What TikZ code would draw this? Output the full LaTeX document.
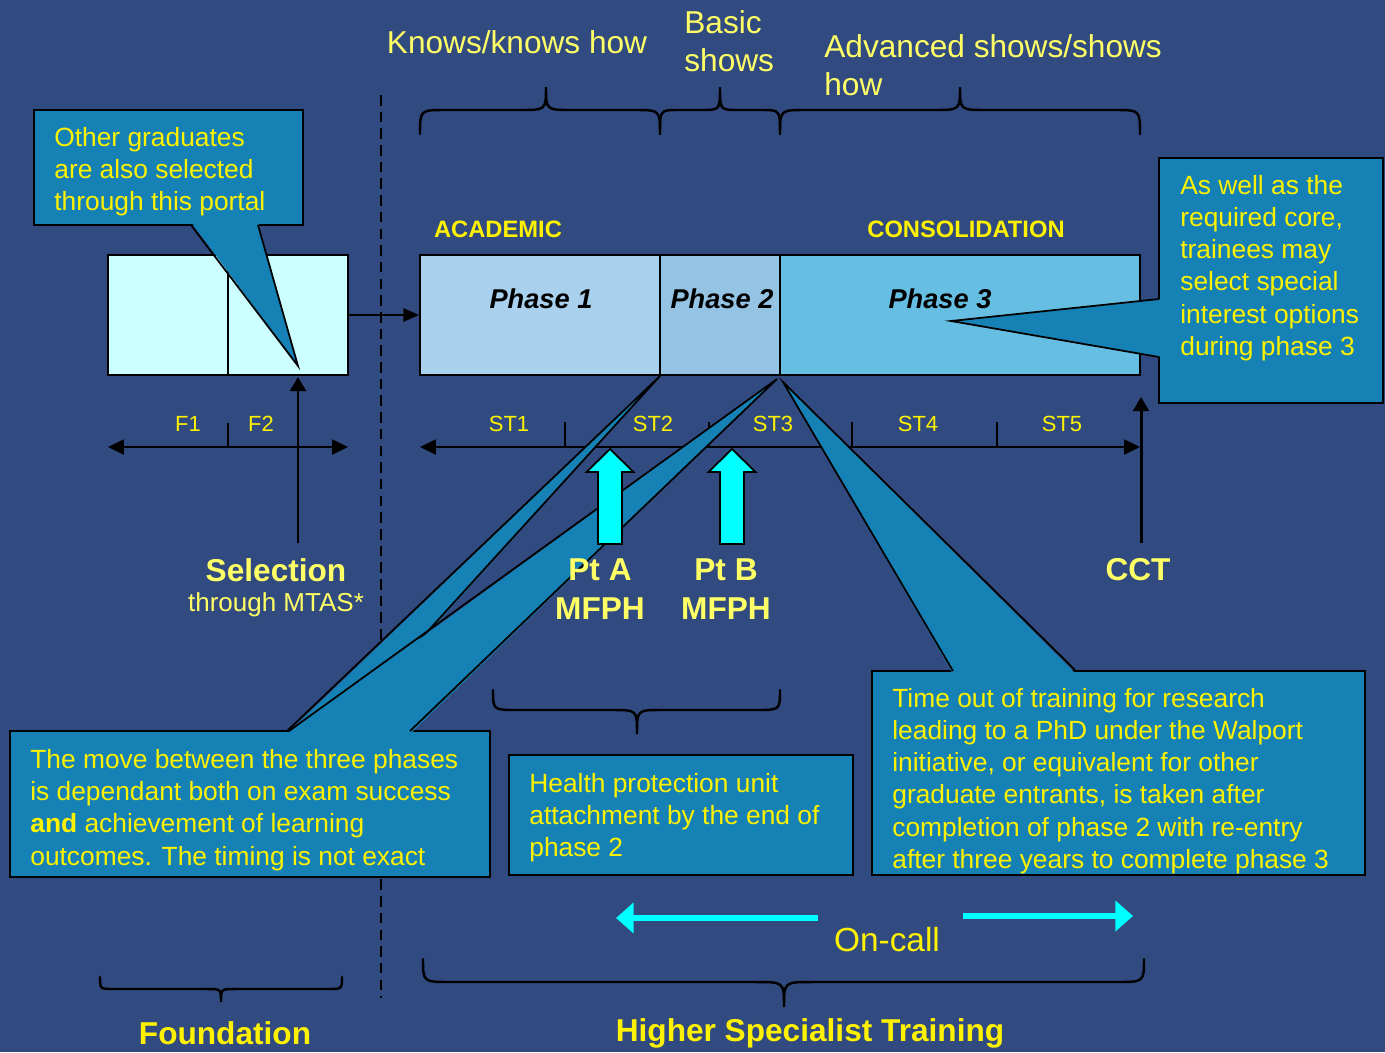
\documentclass[tikz,border=0pt]{standalone}
\usepackage{fontspec}
\setmainfont{Liberation Sans}
\usetikzlibrary{arrows.meta}

\definecolor{bgblue}{HTML}{314A80}
\definecolor{callblue}{HTML}{1581B4}
\definecolor{fcyan}{HTML}{CCFFFF}
\definecolor{phaseone}{HTML}{A9D1EE}
\definecolor{phasetwo}{HTML}{94C3E3}
\definecolor{phasethree}{HTML}{66BFE2}
\definecolor{softyellow}{HTML}{FFFF66}
\definecolor{aqua}{RGB}{0,255,255}

\tikzset{
  fbox/.style={draw=black, line width=1pt, fill=fcyan, minimum width=2.4cm, minimum height=2.4cm, inner sep=0pt},
  phasebox/.style={draw=black, line width=1pt, minimum height=2.4cm, inner sep=0pt},
  callbox/.style={draw=black, line width=1pt, fill=callblue, inner sep=0pt},
  calltext/.style={anchor=west, inner sep=0pt, align=left, text=yellow, font=\fontsize{15}{18.3}\selectfont},
  toplabel/.style={inner sep=0pt, align=left, text=softyellow, font=\fontsize{18}{21.5}\selectfont},
  biglabel/.style={inner sep=0pt, text=softyellow, font=\fontsize{18}{21}\selectfont\bfseries},
  steplabel/.style={inner sep=0pt, text=yellow, font=\fontsize{12.5}{15}\selectfont},
  timeline/.style={line width=1.1pt, {Triangle[length=9pt,width=8.5pt]}-{Triangle[length=9pt,width=8.5pt]}},
  uparrow/.style={line width=1.7pt, -{Triangle[length=8pt,width=9pt]}},
  cyanarrow/.style={aqua, line width=3.4pt, -{Triangle[length=10pt,width=17pt]}},
  brace/.style={line width=1.4pt, line cap=round},
}

\begin{document}
\begin{tikzpicture}[x=0.02cm, y=-0.02cm]
  \fill[bgblue] (0,0) rectangle (1385,1052);
  \useasboundingbox (0,0) rectangle (1385,1052);

  % divider foundation / specialist
  \draw[line width=0.9pt, dash pattern=on 6pt off 3.5pt] (381,95) -- (381,998);

  % foundation boxes
  \node[fbox] (f1) at (168,315) {};
  \node[fbox] (f2) at (288,315) {};

  % phase boxes
  \node[phasebox, fill=phaseone, minimum width=4.8cm] (ph1) at (540,315) {};
  \node[phasebox, fill=phasetwo, minimum width=2.4cm] (ph2) at (720,315) {};
  \node[phasebox, fill=phasethree, minimum width=7.2cm] (ph3) at (960,315) {};
  \node[inner sep=0pt, font=\fontsize{15.5}{18}\selectfont\bfseries\itshape] (ph1lab) at (541,299) {Phase 1};
  \node[inner sep=0pt, font=\fontsize{15.5}{18}\selectfont\bfseries\itshape] (ph2lab) at (722,299) {Phase 2};
  \node[inner sep=0pt, font=\fontsize{15.5}{18}\selectfont\bfseries\itshape] (ph3lab) at (940,299) {Phase 3};
  \node[inner sep=0pt, text=yellow, font=\fontsize{13.5}{16}\selectfont\bfseries] (acad) at (498,229) {ACADEMIC};
  \node[inner sep=0pt, text=yellow, font=\fontsize{13.5}{16}\selectfont\bfseries] (consol) at (966,229) {CONSOLIDATION};

  \draw[line width=1.1pt, -{Triangle[length=9pt,width=7.5pt]}] (f2.east) -- (ph1.west);

  % timelines
  \coordinate (fL) at (108,447);
  \coordinate (fR) at (348,447);
  \draw[timeline] (fL) -- (fR);
  \draw[line width=0.9pt] (228,423) -- (228,447);
  \node[steplabel] (F1) at (188,424) {F1};
  \node[steplabel] (F2) at (261,424) {F2};

  \coordinate (stL) at (420,447);
  \coordinate (stR) at (1140,447);
  \draw[timeline] (stL) -- (stR);
  \foreach \x in {565,709,852,997}
    \draw[line width=0.9pt] (\x,422) -- (\x,447);
  \foreach \x/\t in {509/ST1,653/ST2,773/ST3,918/ST4,1062/ST5}
    \node[steplabel] (\t) at (\x,424) {\t};

  % selection and CCT
  \coordinate (selfoot) at (298,543);
  \coordinate (seltip) at (298,377);
  \draw[uparrow] (selfoot) -- (seltip);
  \node[biglabel] (sel) at (276,570) {Selection};
  \node[inner sep=0pt, text=softyellow, font=\fontsize{14.8}{17}\selectfont] (mtas) at (276,605) {through MTAS*};
  \coordinate (cctfoot) at (1141,543);
  \coordinate (ccttip) at (1141,397);
  \draw[uparrow] (cctfoot) -- (ccttip);
  \node[biglabel] (cct) at (1138,570) {CCT};

  % braces
  \foreach \xa/\xt/\xb/\ye/\ym/\yt/\r in {420/546/660/134/110/87/26, 660/720/780/134/110/87/18,
      780/960/1140/134/110/87/26, 100/221/342/977/989/1002/14,
      423/784/1144/959/982/1007/28, 493/637/780/690/710/734/24}
    \draw[brace] (\xa,\ye) .. controls (\xa,\ym) .. (\xa+\r,\ym) -- (\xt-\r,\ym)
      .. controls (\xt,\ym) .. (\xt,\yt) .. controls (\xt,\ym) .. (\xt+\r,\ym)
      -- (\xb-\r,\ym) .. controls (\xb,\ym) .. (\xb,\ye);
  \node[toplabel] (knows) at (517,42) {Knows/knows how};
  \node[toplabel, anchor=west] (basic) at (684,41) {Basic\\shows};
  \node[toplabel, anchor=west] (adv) at (824,65) {Advanced shows/shows\\how};
  \node[biglabel, text=yellow] (found) at (225,1033) {Foundation};
  \node[biglabel, text=yellow] (hst) at (810,1033) {Higher Specialist Training};

  % callout: other graduates
  \node[callbox, minimum width=5.38cm, minimum height=2.3cm] (grad) at (168.5,167.5) {};
  \fill[callblue] (191,222) -- (298,366) -- (258,222) -- cycle;
  \draw[line width=1pt] (191,225) -- (298,366) -- (258,225);
  \node[calltext] (gradtxt) at (54,171.5) {Other graduates\\are also selected\\through this portal};

  % callout: special interest
  \node[callbox, minimum width=4.48cm, minimum height=4.9cm] (spec) at (1271,280.5) {};
  \fill[callblue] (1162,299) -- (951,321) -- (1162,357) -- cycle;
  \draw[line width=1pt] (1159,299) -- (951,321) -- (1159,357);
  \node[calltext] (spectxt) at (1180,268) {As well as the\\required core,\\trainees may\\select special\\interest options\\during phase 3};

  % callout: research
  \node[callbox, minimum width=9.86cm, minimum height=4.08cm] (walp) at (1118.5,773) {};
  \fill[callblue] (953,674) -- (783,382) -- (1076,674) -- cycle;
  \draw[line width=1pt] (953,671) -- (783,382) -- (1076,671);
  \node[calltext] (walptxt) at (892,781) {Time out of training for research\\leading to a PhD under the Walport\\initiative, or equivalent for other\\graduate entrants, is taken after\\completion of phase 2 with re-entry\\after three years to complete phase 3};

  % callout: health protection unit
  \node[callbox, minimum width=6.88cm, minimum height=2.4cm] (hpu) at (681,815) {};
  \node[calltext] (hputxt) at (529,817.5) {Health protection unit\\attachment by the end of\\phase 2};

  % callout: move between phases
  \node[callbox, minimum width=9.6cm, minimum height=2.92cm] (move) at (250,804) {};
  \fill[callblue] (287,734) -- (660,376) -- (337,734) -- cycle;
  \draw[line width=1pt] (287,731) -- (660,376) -- (337,731);
  \fill[callblue] (289,734) -- (777,379) -- (410,734) -- cycle;
  \draw[line width=1pt] (289,731) -- (777,379) -- (410,731);
  \node[calltext] (movetxt) at (30,810) {The move between the three phases\\is dependant both on exam success\\\textbf{and} achievement of learning\\outcomes. The timing is not exact};

  % membership exams
  \foreach \x in {610,732}
    \draw[line width=1pt, fill=aqua] (\x,449) -- (\x+23.5,472) -- (\x+12,472) -- (\x+12,544)
      -- (\x-12,544) -- (\x-12,472) -- (\x-23.5,472) -- cycle;
  \node[biglabel] (ptA) at (600,570) {Pt A};
  \node[biglabel] (mfphA) at (600,609) {MFPH};
  \node[biglabel] (ptB) at (726,570) {Pt B};
  \node[biglabel] (mfphB) at (726,609) {MFPH};

  % on-call
  \node[inner sep=0pt, text=yellow, font=\fontsize{19}{22}\selectfont] (oncall) at (887,940) {On-call};
  \coordinate (ocL) at (616,918);
  \coordinate (ocR) at (1133,916);
  \draw[cyanarrow] (818,918) -- (ocL);
  \draw[cyanarrow] (963,916) -- (ocR);
\end{tikzpicture}
\end{document}
